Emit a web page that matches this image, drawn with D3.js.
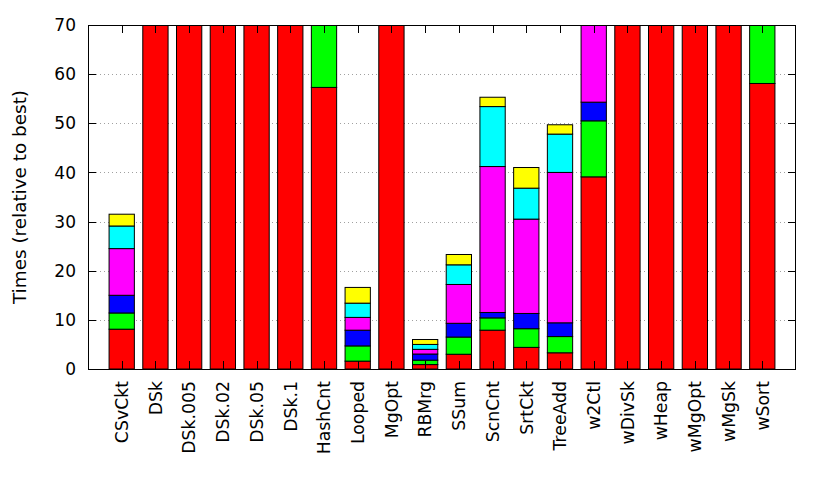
<!DOCTYPE html>
<html>
<head>
<meta charset="utf-8">
<script src="https://cdn.jsdelivr.net/npm/d3@7"></script>
<style>
  html, body { margin: 0; padding: 0; background: #fff; }
  svg { display: block; }
  text { font-family: "DejaVu Sans", sans-serif; }
</style>
</head>
<body>
<script>
const categories = ["CSvCkt","DSk","DSk.005","DSk.02","DSk.05","DSk.1","HashCnt","Looped","MgOpt","RBMrg","SSum","ScnCnt","SrtCkt","TreeAdd","w2Ctl","wDivSk","wHeap","wMgOpt","wMgSk","wSort"];
// stacked segments, bottom to top (values beyond 70 are clipped in the original)
const seriesRed     = [8.1, 80, 80, 80, 80, 80, 57.3, 1.6, 80, 0.9, 3.0, 7.9, 4.4, 3.3, 39.1, 80, 80, 80, 80, 58.1];
const seriesGreen   = [3.3, 0, 0, 0, 0, 0, 20, 3.1, 0, 0.9, 3.5, 2.5, 3.8, 3.3, 11.4, 0, 0, 0, 0, 15];
const seriesBlue    = [3.6, 0, 0, 0, 0, 0, 0, 3.2, 0, 1.25, 2.8, 1.1, 3.1, 2.8, 3.8, 0, 0, 0, 0, 0];
const seriesMagenta = [9.5, 0, 0, 0, 0, 0, 0, 2.6, 0, 0.95, 7.9, 29.7, 19.2, 30.6, 20, 0, 0, 0, 0, 0];
const seriesCyan    = [4.6, 0, 0, 0, 0, 0, 0, 2.9, 0, 1.0, 4.0, 12.2, 6.3, 7.8, 0, 0, 0, 0, 0, 0];
const seriesYellow  = [2.4, 0, 0, 0, 0, 0, 0, 3.2, 0, 1.0, 2.1, 1.9, 4.2, 1.9, 0, 0, 0, 0, 0, 0];
const seriesColors = ["#ff0000","#00ff00","#0000ff","#ff00ff","#00ffff","#ffff00"];
const yTicks = [0, 10, 20, 30, 40, 50, 60, 70];
const yLabel = "Times (relative to best)";

const W = 830, H = 498;
const L = 88, R = 796, T = 25, B = 369;
const allSeries = [seriesRed, seriesGreen, seriesBlue, seriesMagenta, seriesCyan, seriesYellow];

const svg = d3.select("body").append("svg").attr("width", W).attr("height", H);

const x = d3.scaleLinear().domain([-1, 20]).range([L, R]);
const y = d3.scaleLinear().domain([0, 70]).range([B, T]);
const boxW = 0.75;

svg.append("defs").append("clipPath").attr("id", "plotclip")
  .append("rect").attr("x", L).attr("y", T).attr("width", R - L).attr("height", B - T);

// grid
svg.append("g").selectAll("line").data(yTicks.filter(d => d > 0 && d < 70)).join("line")
  .attr("x1", L).attr("x2", R)
  .attr("y1", d => Math.round(y(d)) + 0.5).attr("y2", d => Math.round(y(d)) + 0.5)
  .attr("stroke", "#a0a0a0").attr("stroke-width", 1).attr("stroke-dasharray", "1,3");

// stack data
const table = categories.map((c, i) => {
  const o = { cat: c, idx: i };
  allSeries.forEach((s, k) => o["s" + k] = s[i]);
  return o;
});
const stack = d3.stack().keys(allSeries.map((s, k) => "s" + k))(table);

const bars = svg.append("g").attr("clip-path", "url(#plotclip)");
stack.forEach((layer, k) => {
  bars.append("g").selectAll("rect").data(layer.filter(d => d[1] - d[0] > 0)).join("rect")
    .attr("x", d => x(d.data.idx - boxW / 2))
    .attr("width", d => x(boxW) - x(0))
    .attr("y", d => y(d[1]))
    .attr("height", d => y(d[0]) - y(d[1]))
    .attr("fill", seriesColors[k])
    .attr("stroke", "#000").attr("stroke-width", 1);
});

// ticks
const tickLen = 8;
const tg = svg.append("g").attr("stroke", "#000").attr("stroke-width", 1);
yTicks.forEach(t => {
  const yy = Math.round(y(t)) + 0.5;
  tg.append("line").attr("x1", L).attr("x2", L + tickLen).attr("y1", yy).attr("y2", yy);
  tg.append("line").attr("x1", R - tickLen).attr("x2", R).attr("y1", yy).attr("y2", yy);
});
categories.forEach((c, i) => {
  const xx = Math.round(x(i)) + 0.5;
  tg.append("line").attr("x1", xx).attr("x2", xx).attr("y1", B).attr("y2", B - tickLen);
  tg.append("line").attr("x1", xx).attr("x2", xx).attr("y1", T).attr("y2", T + tickLen);
});

// frame
svg.append("rect").attr("x", L + 0.5).attr("y", T + 0.5)
  .attr("width", R - L - 1).attr("height", B - T)
  .attr("fill", "none").attr("stroke", "#000").attr("stroke-width", 1);

// y labels
svg.append("g").selectAll("text").data(yTicks).join("text")
  .attr("x", 76).attr("y", d => y(d)).attr("dy", "0.36em")
  .attr("text-anchor", "end").attr("font-size", 17).attr("fill", "#000")
  .text(d => d);

// x labels
svg.append("g").selectAll("text").data(categories).join("text")
  .attr("transform", (d, i) => `translate(${x(i)},381) rotate(-90)`)
  .attr("dy", "0.36em")
  .attr("text-anchor", "end").attr("font-size", 17.3).attr("fill", "#000")
  .text(d => d);

// y title
svg.append("text")
  .attr("transform", `translate(19,${(T + B) / 2}) rotate(-90)`)
  .attr("dy", "0.36em")
  .attr("text-anchor", "middle").attr("font-size", 18.4).attr("fill", "#000")
  .text(yLabel);
</script>
</body>
</html>
